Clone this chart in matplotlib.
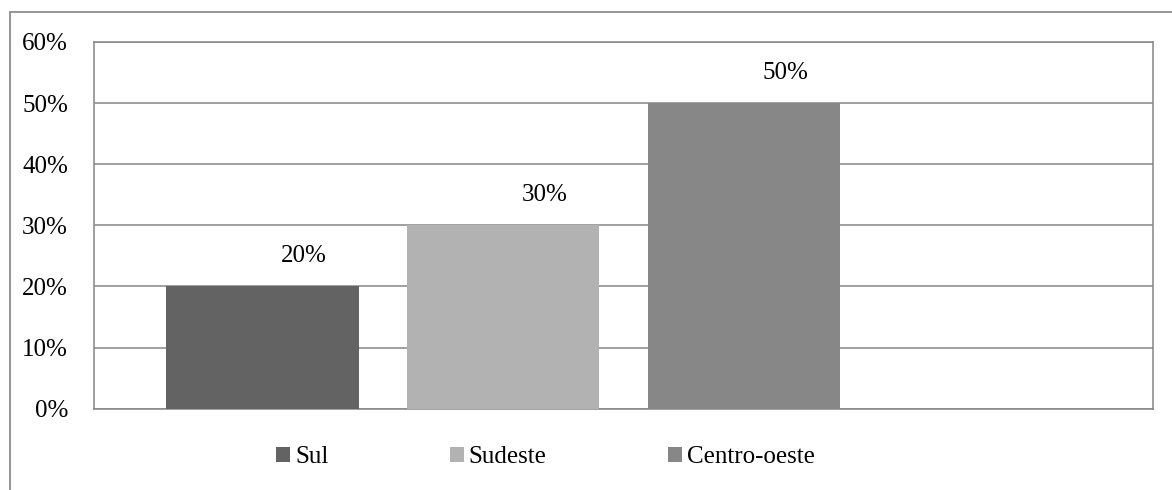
import matplotlib
matplotlib.use("Agg")
import matplotlib.pyplot as plt
from matplotlib.patches import Rectangle, Patch
from matplotlib.ticker import PercentFormatter

# Share of responses by region
regions = ["Sul", "Sudeste", "Centro-oeste"]
shares = [20, 30, 50]
bar_colors = ["#636363", "#b2b2b2", "#878787"]
y_ticks = [0, 10, 20, 30, 40, 50, 60]

W, H = 1172, 490
plt.rcParams["font.family"] = ["Liberation Serif", "DejaVu Serif"]
plt.rcParams["font.size"] = 18

fig = plt.figure(figsize=(W / 100, H / 100), dpi=100)
fig.patch.set_facecolor("white")

# Outer chart frame (runs off the right and bottom edges)
frame = Rectangle((10 / W, -0.05), 1.1, 1 - 12 / H + 0.05,
                  transform=fig.transFigure, fill=False,
                  edgecolor="#8c8c8c", linewidth=1.3)
fig.patches.append(frame)

left, right, top, bottom = 94, 1153, 42, 408.7
ax = fig.add_axes([left / W, 1 - bottom / H, (right - left) / W, (bottom - top) / H])

grid_color = "#868686"
positions = list(range(len(regions)))
ax.bar(positions, shares, width=0.8, color=bar_colors, zorder=3)

ax.set_xlim(-0.7, 3.7)
ax.set_ylim(0, 60)
ax.set_yticks(y_ticks)
ax.yaxis.set_major_formatter(PercentFormatter(decimals=0))
ax.set_xticks([])
ax.tick_params(axis="y", length=0, pad=18.7)
ax.yaxis.grid(True, color=grid_color, linewidth=1.1, zorder=0)
for s in ax.spines.values():
    s.set_color(grid_color)
    s.set_linewidth(1.1)

# Value labels above each bar
for x, v in zip(positions, shares):
    ax.annotate(f"{v}%", xy=(x, v), xytext=(30, 14), textcoords="offset points",
                ha="center", va="bottom", fontsize=18, zorder=4)

handles = [Patch(facecolor=c, edgecolor="none") for c in bar_colors]
fig.legend(handles, regions, loc="center left",
           bbox_to_anchor=(276 / W, 1 - 457 / H), ncol=3, frameon=False,
           borderpad=0, borderaxespad=0, handlelength=0.56, handleheight=0.56,
           handletextpad=0.2, columnspacing=4.85, fontsize=18)

fig.savefig("out.png", dpi=100, facecolor="white")
